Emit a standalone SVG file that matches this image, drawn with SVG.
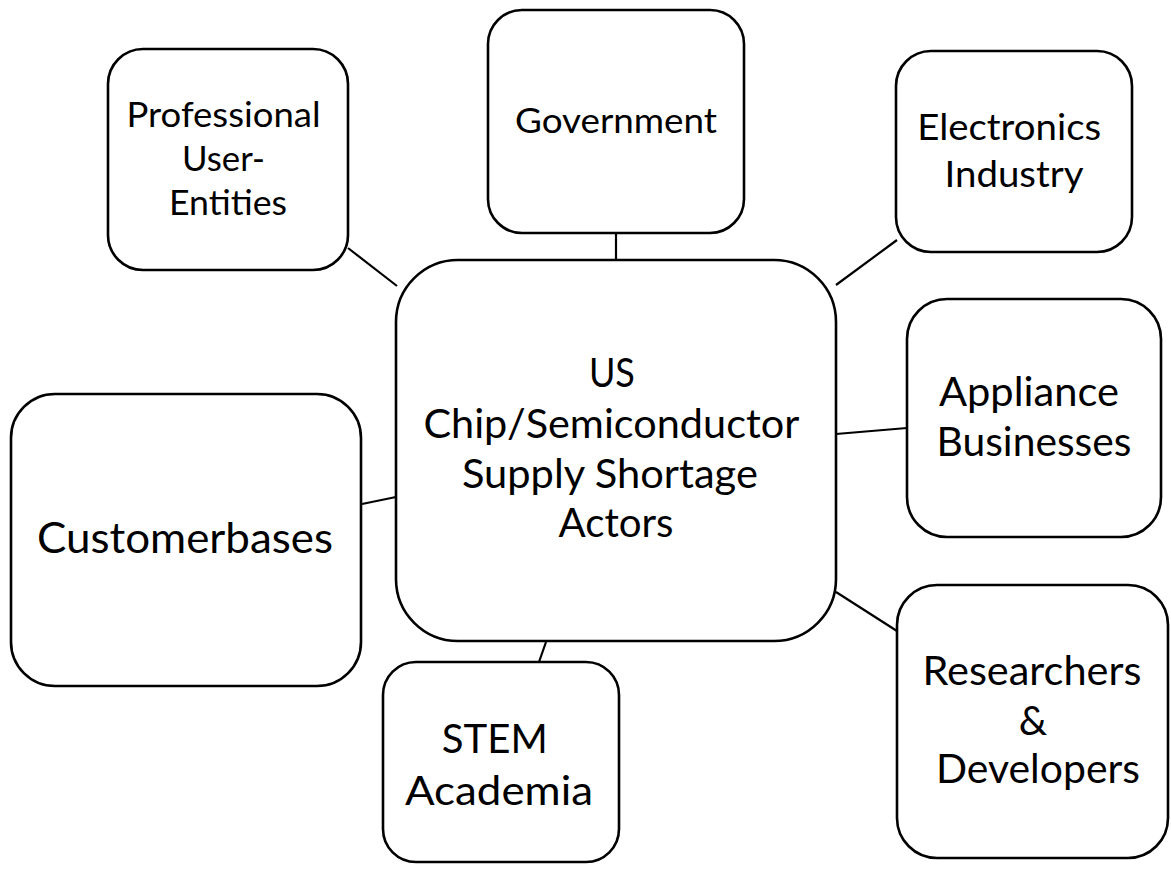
<svg xmlns="http://www.w3.org/2000/svg" width="1171" height="871" viewBox="0 0 1171 871">
  <style>
    .box { fill: #ffffff; stroke: #000000; stroke-width: 2.6; }
    .link { stroke: #000000; stroke-width: 2.2; fill: none; }
    .lbl { font-family: Lato, "Open Sans", "Liberation Sans", sans-serif; fill: #000000; text-anchor: middle; }
  </style>
  <rect width="1171" height="871" fill="#ffffff"/>

  <!-- connectors between the hub and each actor -->
  <g id="connectors">
    <line class="link" x1="348" y1="248" x2="397" y2="286"/>
    <line class="link" x1="616" y1="233" x2="616" y2="260"/>
    <line class="link" x1="897" y1="240" x2="836" y2="285"/>
    <line class="link" x1="836" y1="434" x2="907" y2="428"/>
    <line class="link" x1="362" y1="504" x2="396" y2="497"/>
    <line class="link" x1="546" y1="642" x2="539" y2="662"/>
    <line class="link" x1="836" y1="592" x2="897" y2="631"/>
  </g>

  <g id="hub">
    <rect class="box" x="396" y="260" width="440" height="381" rx="62" ry="62"/>
    <text class="lbl" font-size="40" lengthAdjust="spacingAndGlyphs">
      <tspan x="617" y="387" textLength="46" lengthAdjust="spacingAndGlyphs">US</tspan>
      <tspan x="616" y="438" textLength="375" lengthAdjust="spacingAndGlyphs">Chip/Semiconductor</tspan>
      <tspan x="615" y="488" textLength="296" lengthAdjust="spacingAndGlyphs">Supply Shortage</tspan>
      <tspan x="616" y="537" textLength="115" lengthAdjust="spacingAndGlyphs">Actors</tspan>
    </text>
  </g>

  <g id="professional">
    <rect class="box" x="108" y="49" width="240" height="221" rx="35" ry="35"/>
    <text class="lbl" font-size="35">
      <tspan x="228" y="127" textLength="194" lengthAdjust="spacingAndGlyphs">Professional</tspan>
      <tspan x="228" y="171" textLength="83" lengthAdjust="spacingAndGlyphs">User-</tspan>
      <tspan x="228" y="215" textLength="118" lengthAdjust="spacingAndGlyphs">Entities</tspan>
    </text>
  </g>

  <g id="government">
    <rect class="box" x="488" y="10" width="256" height="223" rx="34" ry="34"/>
    <text class="lbl" font-size="35">
      <tspan x="616" y="133" textLength="202" lengthAdjust="spacingAndGlyphs">Government</tspan>
    </text>
  </g>

  <g id="electronics">
    <rect class="box" x="896" y="51" width="236" height="201" rx="35" ry="35"/>
    <text class="lbl" font-size="37.5">
      <tspan x="1014" y="140" textLength="184" lengthAdjust="spacingAndGlyphs">Electronics</tspan>
      <tspan x="1014" y="187" textLength="139" lengthAdjust="spacingAndGlyphs">Industry</tspan>
    </text>
  </g>

  <g id="appliance">
    <rect class="box" x="907" y="299" width="254" height="238" rx="40" ry="40"/>
    <text class="lbl" font-size="40">
      <tspan x="1034" y="406" textLength="180" lengthAdjust="spacingAndGlyphs">Appliance</tspan>
      <tspan x="1034" y="456" textLength="195" lengthAdjust="spacingAndGlyphs">Businesses</tspan>
    </text>
  </g>

  <g id="customerbases">
    <rect class="box" x="11" y="394" width="350" height="292" rx="44" ry="44"/>
    <text class="lbl" font-size="42.5">
      <tspan x="185" y="553" textLength="296" lengthAdjust="spacingAndGlyphs">Customerbases</tspan>
    </text>
  </g>

  <g id="stem">
    <rect class="box" x="383" y="662" width="236" height="200" rx="33" ry="33"/>
    <text class="lbl" font-size="41.5">
      <tspan x="500" y="753" textLength="106" lengthAdjust="spacingAndGlyphs">STEM</tspan>
      <tspan x="499" y="805" textLength="188" lengthAdjust="spacingAndGlyphs">Academia</tspan>
    </text>
  </g>

  <g id="researchers">
    <rect class="box" x="897" y="585" width="271" height="273" rx="40" ry="40"/>
    <text class="lbl" font-size="40">
      <tspan x="1037" y="685" textLength="219" lengthAdjust="spacingAndGlyphs">Researchers</tspan>
      <tspan x="1038" y="735">&amp;</tspan>
      <tspan x="1038" y="783" textLength="204" lengthAdjust="spacingAndGlyphs">Developers</tspan>
    </text>
  </g>
</svg>
